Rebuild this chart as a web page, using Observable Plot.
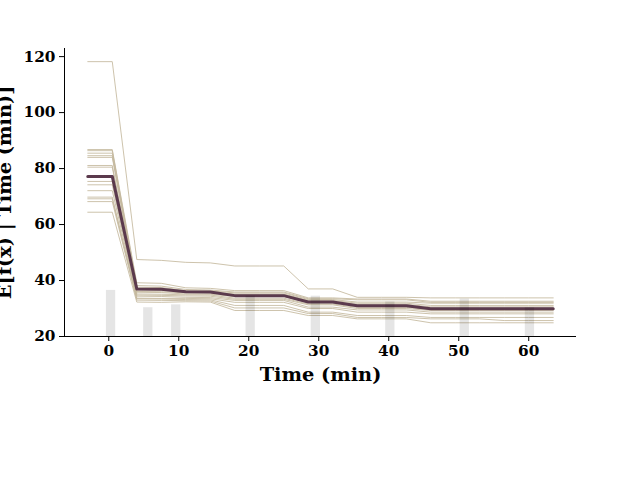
<!DOCTYPE html>
<html>
<head>
<meta charset="utf-8">
<script src="https://cdn.jsdelivr.net/npm/d3@7"></script>
<script src="https://cdn.jsdelivr.net/npm/@observablehq/plot@0.6"></script>
<style>
  html, body { margin: 0; padding: 0; background: #fff; }
</style>
</head>
<body>
<div id="chart"></div>
<script>
// Grid of feature values (Time, min)
const gridX = [-3, 0.5, 4, 7.5, 11, 14.5, 18, 21.5, 25, 28.5, 32, 35.5, 39, 42.5, 46, 49.5, 53, 56.5, 60, 63.5];

// Individual conditional expectation lines
const ice01 = [118.2, 118.2, 47.5, 47.2, 46.5, 46.3, 45.2, 45.2, 45.2, 37.0, 37.0, 34.0, 34.0, 34.0, 33.8, 33.8, 33.8, 33.8, 33.8, 33.8];
const ice02 = [86.8, 86.8, 39.2, 39.0, 37.4, 37.2, 36.4, 36.4, 36.4, 33.8, 33.8, 33.4, 33.4, 33.4, 32.6, 32.6, 32.6, 32.6, 32.6, 32.6];
const ice03 = [86.4, 86.4, 38.2, 38.0, 36.8, 36.6, 35.9, 35.9, 35.9, 33.5, 33.5, 33.1, 33.1, 33.1, 32.2, 32.2, 32.2, 32.2, 32.2, 32.2];
const ice04 = [85.5, 85.5, 37.6, 37.5, 36.4, 36.3, 35.6, 35.6, 35.6, 33.2, 33.2, 32.3, 32.3, 32.3, 31.9, 31.9, 31.9, 31.9, 31.9, 31.9];
const ice05 = [84.6, 84.6, 37.0, 36.9, 36.0, 35.9, 35.2, 35.2, 35.2, 32.9, 32.9, 31.9, 31.9, 31.9, 31.1, 31.1, 31.1, 31.1, 31.1, 31.1];
const ice06 = [84.0, 84.0, 36.6, 36.5, 35.8, 35.7, 34.9, 34.9, 34.9, 32.6, 32.6, 31.5, 31.5, 31.5, 30.6, 30.6, 30.6, 30.6, 30.6, 30.6];
const ice07 = [81.1, 81.1, 36.1, 36.0, 35.6, 35.5, 34.6, 34.6, 34.6, 32.3, 32.3, 31.1, 31.1, 31.1, 30.2, 30.2, 30.2, 30.2, 30.2, 30.2];
const ice08 = [80.5, 80.5, 35.8, 35.7, 35.2, 35.1, 34.3, 34.3, 34.3, 32.0, 32.0, 30.8, 30.8, 30.8, 29.9, 29.9, 29.9, 29.9, 29.9, 29.9];
const ice09 = [75.4, 75.4, 35.2, 35.1, 34.9, 34.8, 33.7, 33.7, 33.7, 31.6, 31.6, 30.4, 30.4, 30.4, 29.6, 29.6, 29.6, 29.6, 29.6, 29.6];
const ice10 = [74.2, 74.2, 34.8, 34.7, 34.5, 34.4, 33.3, 33.3, 33.3, 31.3, 31.3, 30.0, 30.0, 30.0, 29.3, 29.3, 29.3, 29.3, 29.3, 29.3];
const ice11 = [72.1, 72.1, 34.4, 34.3, 34.0, 33.9, 32.9, 32.9, 32.9, 30.5, 30.5, 29.5, 29.5, 29.5, 28.7, 28.7, 28.7, 28.7, 28.7, 28.7];
const ice12 = [69.8, 69.8, 33.7, 33.6, 33.6, 33.5, 32.2, 32.2, 32.2, 30.0, 30.0, 28.7, 28.7, 28.7, 28.1, 28.1, 28.1, 28.1, 28.1, 28.1];
const ice13 = [69.2, 69.2, 33.5, 33.4, 33.2, 33.1, 31.1, 31.1, 31.1, 28.7, 28.7, 27.5, 27.5, 27.5, 26.8, 26.8, 26.8, 26.8, 26.8, 26.8];
const ice14 = [68.2, 68.2, 33.0, 32.9, 32.8, 32.7, 30.2, 30.2, 30.2, 28.2, 28.2, 26.8, 26.8, 26.8, 26.3, 26.3, 26.3, 25.7, 25.7, 25.7];
const ice15 = [64.4, 64.4, 32.3, 32.2, 32.4, 32.3, 29.3, 29.3, 29.3, 27.5, 27.5, 26.3, 26.3, 26.3, 24.9, 24.9, 24.9, 24.9, 24.9, 24.9];
const iceLines = [ice01, ice02, ice03, ice04, ice05, ice06, ice07, ice08, ice09, ice10, ice11, ice12, ice13, ice14, ice15];

// Partial dependence (average) line
const pdValues = [77.2, 77.2, 37.0, 36.9, 36.0, 35.9, 34.6, 34.6, 34.6, 32.3, 32.3, 31.0, 31.0, 31.0, 29.9, 29.9, 29.9, 29.9, 29.9, 29.9];

// Histogram of the feature (values and counts), 50 bins over the grid range
const histValues = [0, 5, 10, 20, 30, 40, 50.5, 60];
const histCounts = [16, 10, 11, 14, 14, 12, 13, 10];
const histBinCount = 50;

// Axes
const xTicks = [0, 10, 20, 30, 40, 50, 60];
const yTicks = [20, 40, 60, 80, 100, 120];
const xLabel = "Time (min)";
const yLabel = "E[f(x) | Time (min)]";

const xMin = gridX[0], xMax = gridX[gridX.length - 1];
const xPad = (xMax - xMin) * 0.05;
const xDomain = [xMin - xPad, xMax + xPad];
const yDomain = [20, 122.9];

const iceData = iceLines.flatMap((vals, k) => vals.map((v, i) => ({id: k, x: gridX[i], y: v})));
const pdData = pdValues.map((v, i) => ({x: gridX[i], y: v}));

// histogram on a twin axis whose range is [0, total count]
const samples = histValues.flatMap((v, i) => Array(histCounts[i]).fill(v));
const total = d3.sum(histCounts);
const edges = d3.range(histBinCount + 1).map(k => xMin + k * (xMax - xMin) / histBinCount);
const bins = d3.bin().domain([xMin, xMax]).thresholds(edges.slice(1, -1))(samples).filter(b => b.length > 0);
const twin = c => yDomain[0] + c / total * (yDomain[1] - yDomain[0]);
const histData = bins.map(b => ({x1: b.x0, x2: b.x1, y1: yDomain[0], y2: twin(b.length)}));

const font = "DejaVu Serif";

const chart = Plot.plot({
  width: 640,
  height: 480,
  marginLeft: 64,
  marginRight: 64,
  marginTop: 48,
  marginBottom: 144,
  x: {domain: xDomain},
  y: {domain: yDomain},
  style: {fontFamily: font, fontWeight: "bold", fontSize: "15px", color: "black", background: "white"},
  marks: [
    Plot.line(iceData, {x: "x", y: "y", z: "id", stroke: "#c4b99e", strokeWidth: 1, strokeOpacity: 0.85}),
    Plot.line(pdData, {x: "x", y: "y", stroke: "#5b3a4d", strokeWidth: 3}),
    Plot.rect(histData, {x1: "x1", x2: "x2", y1: "y1", y2: "y2", fill: "black", fillOpacity: 0.1}),
    Plot.ruleY([yDomain[0]], {stroke: "black", strokeWidth: 1}),
    Plot.ruleX([xDomain[0]], {stroke: "black", strokeWidth: 1}),
    Plot.axisX({ticks: xTicks, tickSize: 5, tickPadding: 4, label: null, fontSize: 15.3, fontWeight: "bold"}),
    Plot.axisY({ticks: yTicks, tickSize: 5, tickPadding: 4, label: null, fontSize: 15.3, fontWeight: "bold"}),
    Plot.text([xLabel], {frameAnchor: "bottom", dy: 44, fontSize: 19.4, fontWeight: "bold", fill: "black"}),
    Plot.text([yLabel], {frameAnchor: "left", textAnchor: "middle", dx: -54, rotate: -90, lineAnchor: "bottom", fontSize: 19.4, fontWeight: "bold", fill: "black"})
  ]
});
document.getElementById("chart").appendChild(chart);
</script>
</body>
</html>
